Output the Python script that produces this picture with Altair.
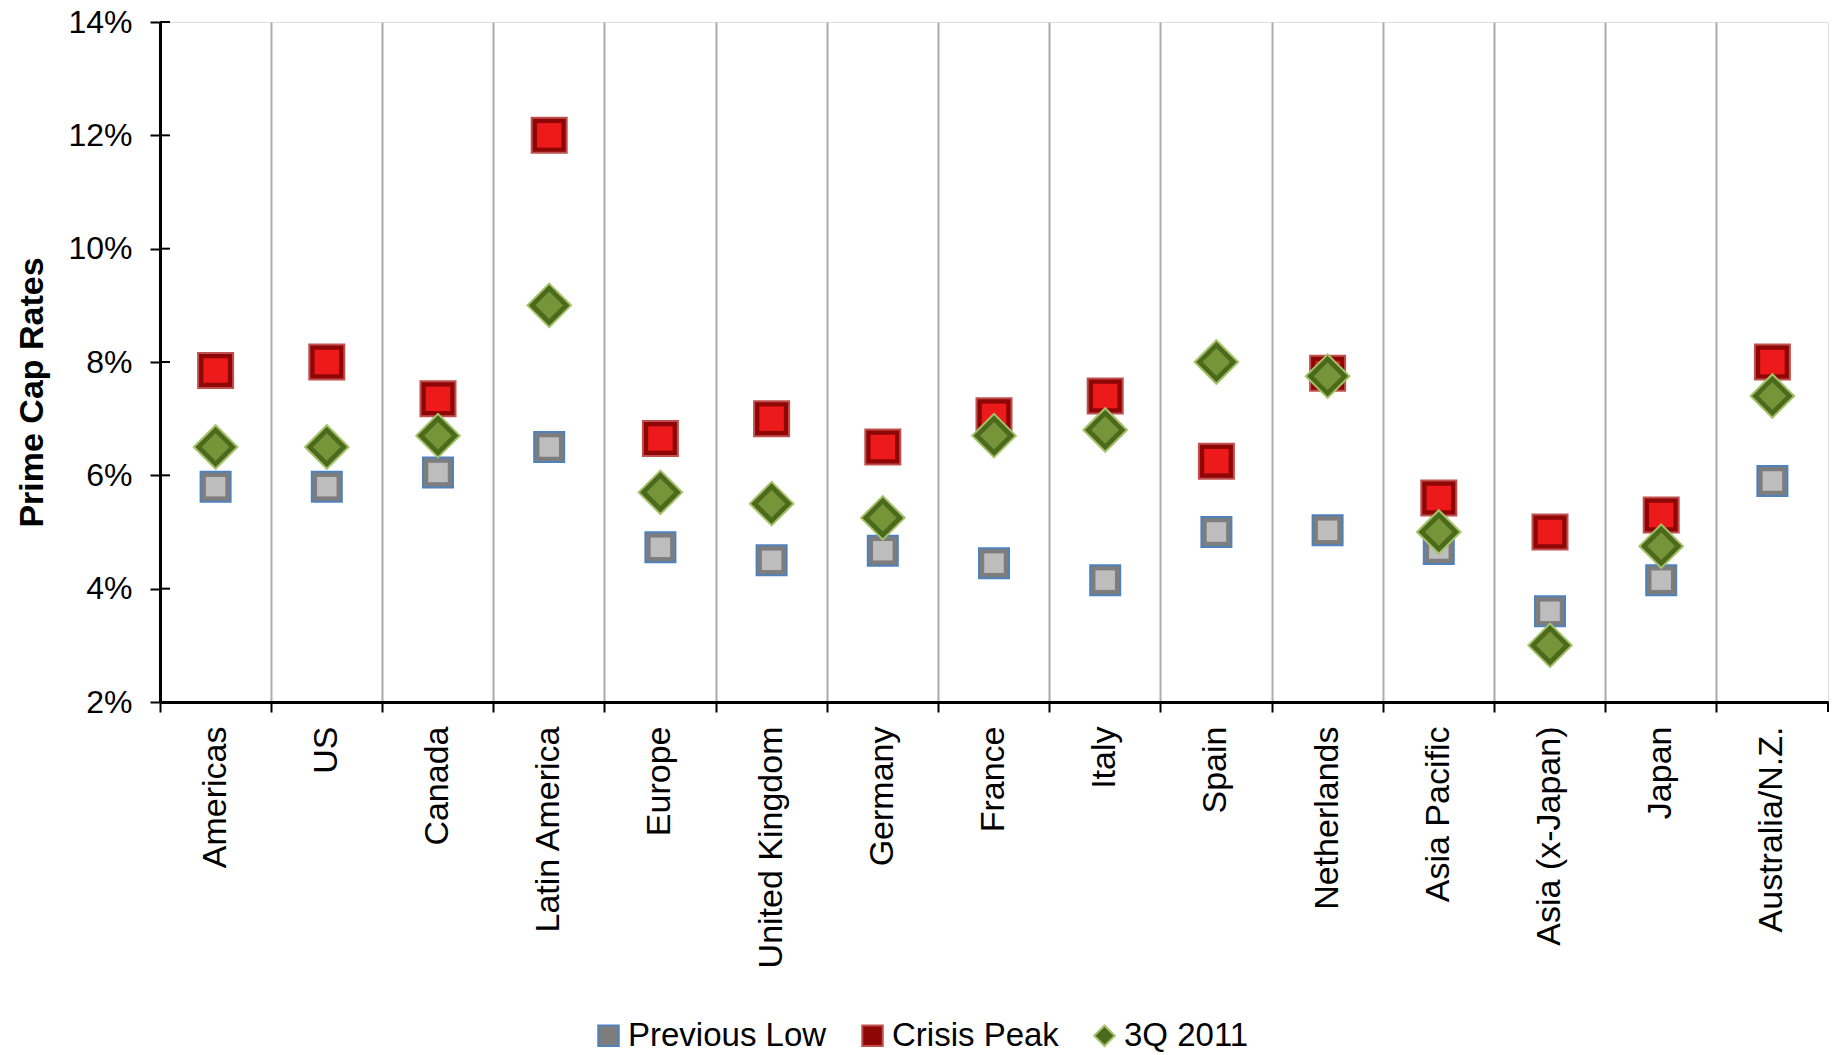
import altair as alt
import pandas as pd

# Prime cap rates (%) by market
categories = [
    "Americas", "US", "Canada", "Latin America", "Europe", "United Kingdom",
    "Germany", "France", "Italy", "Spain", "Netherlands", "Asia Pacific",
    "Asia (x-Japan)", "Japan", "Australia/N.Z.",
]
previous_low = [5.8, 5.8, 6.05, 6.5, 4.73, 4.5, 4.67, 4.45, 4.15, 5.0, 5.03, 4.7, 3.6, 4.15, 5.9]
crisis_peak = [7.85, 8.0, 7.35, 12.0, 6.65, 7.0, 6.5, 7.05, 7.4, 6.25, 7.8, 5.6, 5.0, 5.3, 8.0]
q3_2011 = [6.5, 6.5, 6.7, 9.0, 5.7, 5.5, 5.25, 6.7, 6.8, 8.0, 7.75, 5.0, 3.0, 4.75, 7.4]

series_names = ["Previous Low", "Crisis Peak", "3Q 2011"]
y_ticks = [2, 4, 6, 8, 10, 12, 14]

FONT = "Liberation Sans"
W, H = 1668, 680

rows = []
for name, vals in zip(series_names, [previous_low, crisis_peak, q3_2011]):
    for c, v in zip(categories, vals):
        rows.append({"category": c, "series": name, "value": v})
df = pd.DataFrame(rows)

x_axis = alt.Axis(
    title=None, bandPosition=0, labelAngle=-90, labelLimit=0,
    labelFont=FONT, labelFontSize=34, labelColor="black", labelPadding=14,
    tickSize=10, tickWidth=2, tickColor="black",
    domainColor="black", domainWidth=3,
    grid=True, gridColor="#ababab", gridWidth=2,
)
y_axis = alt.Axis(
    title="Prime Cap Rates", titleFont=FONT, titleFontSize=34, titleFontWeight="bold",
    titleColor="black", titlePadding=18, titleY=H / 2 + 30,
    values=y_ticks, labelExpr="datum.value + '%'",
    labelFont=FONT, labelFontSize=32, labelColor="black", labelPadding=18,
    tickSize=10, tickWidth=2, tickColor="black",
    domainColor="black", domainWidth=3, grid=False,
)

X = alt.X("category:N", sort=categories,
          scale=alt.Scale(paddingInner=0, paddingOuter=0), axis=x_axis)
Y = alt.Y("value:Q", scale=alt.Scale(domain=[2, 14], nice=False, zero=False), axis=y_axis)

base_fill = ["#7d7d7d", "#8e0606", "#4c6a1b"]
base_stroke = ["#4f81bd", "#c0504d", "#a4c26a"]
inner_fill = ["#bdbdbd", "#ec1a1a", "#769539"]
shapes = ["square", "square", "diamond"]
base_size = [900, 1225, 1900]
inner_size = [380, 600, 760]

legend = alt.Legend(
    orient="none", legendX=432, legendY=997, direction="horizontal", title=None,
    labelFont=FONT, labelFontSize=33, labelColor="black", labelLimit=0,
    symbolSize=420, symbolStrokeWidth=2, labelOffset=3, columnPadding=29,
)

color = alt.Color("series:N", scale=alt.Scale(domain=series_names, range=base_fill), legend=legend)
shape = alt.Shape("series:N", scale=alt.Scale(domain=series_names, range=shapes), legend=legend)
stroke = alt.Stroke("series:N", scale=alt.Scale(domain=series_names, range=base_stroke), legend=legend)

layers = []
for i, name in enumerate(series_names):
    sub = alt.Chart(df).transform_filter(alt.datum.series == name)
    layers.append(
        sub.mark_point(filled=True, opacity=1, strokeWidth=2).encode(
            x=X, y=Y, color=color, shape=shape, stroke=stroke, size=alt.value(base_size[i])
        )
    )
    layers.append(
        sub.mark_point(filled=True, opacity=1, strokeWidth=0, shape=shapes[i]).encode(
            x=X, y=Y, color=alt.value(inner_fill[i]), size=alt.value(inner_size[i])
        )
    )

# inward half of the y-axis ticks
tick_df = pd.DataFrame({"value": y_ticks})
inner_ticks = alt.Chart(tick_df).mark_rule(color="black", strokeWidth=2).encode(
    y=Y, x=alt.value(0), x2=alt.value(10)
)

# closing tick at the right end of the category axis
end_df = pd.DataFrame({"category": [categories[-1]]})
end_tick = alt.Chart(end_df).mark_rule(color="black", strokeWidth=2).encode(
    x=alt.X("category:N", sort=categories, bandPosition=1,
            scale=alt.Scale(paddingInner=0, paddingOuter=0), axis=x_axis),
    y=alt.value(H), y2=alt.value(H + 10),
)

chart = alt.layer(inner_ticks, end_tick, *layers).properties(
    width=W, height=H,
    autosize=alt.AutoSizeParams(type="none"),
    padding={"left": 160, "top": 22, "right": 7, "bottom": 353},
).configure_view(stroke=None).configure(background="white")

chart.save("out.html", embed_options={"renderer": "svg", "actions": False})
